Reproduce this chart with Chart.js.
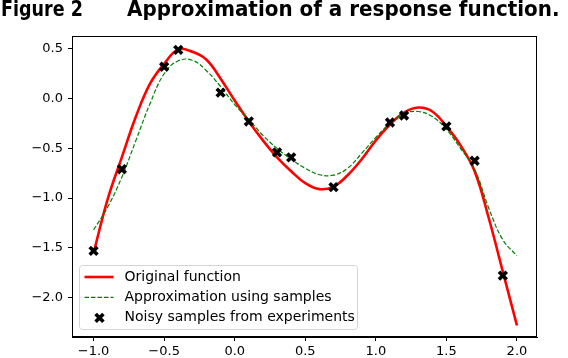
<!DOCTYPE html>
<html lang="en">
<head>
  <meta charset="UTF-8" />
  <title>Approximation of a response function</title>
  <script src="https://cdn.jsdelivr.net/npm/chart.js@4"></script>
  <style>
    body {
      margin: 0;
      background: #fff;
    }

    #wrap {
      position: relative;
      width: 568px;
      height: 358px;
      overflow: hidden;
    }

    .title {
      position: absolute;
      top: -1.5px;
      font: bold 20.5px "DejaVu Sans", sans-serif;
      line-height: 1;
      white-space: nowrap;
      color: #000;
      transform-origin: 0 0;
    }

    canvas {
      position: absolute;
      left: 0;
      top: 0;
    }
  </style>
</head>
<body>
  <div id="wrap">
    <canvas id="chart" width="568" height="358"></canvas>
    <div class="title" style="left: 1px; transform: scaleX(0.855);">Figure 2</div>
    <div class="title" style="left: 127px; transform: scaleX(0.972);">Approximation of a response function.</div>
  </div>

  <script>
    // x grid the curves were read on
    const xs = [-1.0, -0.9, -0.8, -0.7, -0.6, -0.5, -0.4, -0.3, -0.2, -0.1,
                0.0, 0.1, 0.2, 0.3, 0.4, 0.5, 0.6, 0.7, 0.8, 0.9,
                1.0, 1.1, 1.2, 1.3, 1.4, 1.5, 1.6, 1.7, 1.8, 1.9, 2.0];

    const originalY = [-1.55, -1.01, -0.59, -0.18, 0.15, 0.35, 0.495, 0.47, 0.39, 0.20,
                       -0.02, -0.23, -0.42, -0.59, -0.73, -0.85, -0.91, -0.885, -0.77, -0.61,
                       -0.42, -0.26, -0.14, -0.09, -0.13, -0.28, -0.47, -0.73, -1.20, -1.74, -2.28];

    const approxY = [-1.32, -1.09, -0.79, -0.42, -0.05, 0.25, 0.38, 0.385, 0.28, 0.12,
                     -0.06, -0.21, -0.37, -0.50, -0.61, -0.70, -0.765, -0.77, -0.70, -0.55,
                     -0.39, -0.25, -0.15, -0.13, -0.18, -0.31, -0.50, -0.71, -1.10, -1.42, -1.58];

    const sampleX = [-1.0, -0.8, -0.5, -0.4, -0.1, 0.1, 0.3, 0.4, 0.7, 1.1, 1.2, 1.5, 1.7, 1.9];
    const sampleY = [-1.53, -0.71, 0.32, 0.49, 0.06, -0.23, -0.54, -0.59, -0.89, -0.24, -0.17, -0.28, -0.625, -1.78];

    const xTicks = [-1.0, -0.5, 0.0, 0.5, 1.0, 1.5, 2.0];
    const yTicks = [-2.0, -1.5, -1.0, -0.5, 0.0, 0.5];

    const toPoints = (xArr, yArr) => xArr.map((x, i) => ({ x, y: yArr[i] }));
    const fmt = v => (v < 0 ? '\u2212' : '') + Math.abs(v).toFixed(1);

    // matplotlib style box around the axes
    const frame = {
      id: 'frame',
      afterDraw(chart) {
        const { ctx, chartArea: a } = chart;
        ctx.save();
        ctx.strokeStyle = '#000';
        ctx.lineWidth = 1;
        ctx.strokeRect(a.left + 0.5, a.top + 0.5, a.right - a.left - 1, a.bottom - a.top - 1);
        ctx.restore();
      }
    };

    // legend drawn inside the axes, lower left
    const boxLegend = {
      id: 'boxLegend',
      afterDatasetsDraw(chart) {
        const { ctx, chartArea: a } = chart;
        const x0 = a.left + 7.5, y0 = a.bottom - 71.5, w = 278, h = 64;
        ctx.save();
        ctx.beginPath();
        ctx.roundRect(x0, y0, w, h, 3);
        ctx.fillStyle = 'rgba(255,255,255,0.8)';
        ctx.fill();
        ctx.strokeStyle = '#d4d4d4';
        ctx.lineWidth = 1;
        ctx.stroke();

        ctx.font = '14px "DejaVu Sans"';
        ctx.textBaseline = 'middle';
        chart.data.datasets.forEach((ds, i) => {
          const cy = y0 + 11.5 + i * 20.4;
          if (ds.showLine === false) {
            ctx.strokeStyle = ds.pointBorderColor;
            ctx.fillStyle = ds.pointBackgroundColor;
            ctx.lineWidth = ds.pointBorderWidth;
            Chart.helpers.drawPoint(ctx, {
              pointStyle: ds.pointStyle,
              radius: ds.pointRadius,
              borderWidth: ds.pointBorderWidth
            }, x0 + 20, cy);
          } else {
            ctx.strokeStyle = ds.borderColor;
            ctx.lineWidth = ds.borderWidth;
            ctx.setLineDash(ds.borderDash || []);
            ctx.beginPath();
            ctx.moveTo(x0 + 5, cy);
            ctx.lineTo(x0 + 34, cy);
            ctx.stroke();
            ctx.setLineDash([]);
          }
          ctx.fillStyle = '#000';
          ctx.fillText(ds.label, x0 + 45, cy);
        });
        ctx.restore();
      }
    };

    const axisCommon = {
      type: 'linear',
      grid: { drawOnChartArea: false, drawTicks: true, tickLength: 4, color: '#000' },
      border: { display: true, color: '#000' },
      ticks: {
        color: '#000',
        font: { family: '"DejaVu Sans"', size: 13 },
        callback: v => fmt(v)
      }
    };

    new Chart(document.getElementById('chart').getContext('2d'), {
      type: 'line',
      data: {
        datasets: [{
          label: 'Original function',
          data: toPoints(xs, originalY),
          borderColor: '#ff0000',
          borderWidth: 2.6,
          pointRadius: 0,
          tension: 0.4,
          fill: false,
          order: 3
        }, {
          label: 'Approximation using samples',
          data: toPoints(xs, approxY),
          borderColor: '#008000',
          borderWidth: 1.2,
          borderDash: [4.5, 2],
          pointRadius: 0,
          tension: 0.4,
          fill: false,
          order: 2
        }, {
          label: 'Noisy samples from experiments',
          data: toPoints(sampleX, sampleY),
          showLine: false,
          pointStyle: 'crossRot',
          pointRadius: 5.5,
          pointBorderWidth: 3.6,
          pointBorderColor: '#000',
          pointBackgroundColor: '#000',
          order: 1
        }]
      },
      options: {
        responsive: false,
        animation: false,
        layout: { padding: { left: 0, right: 31, top: 36, bottom: 0 } },
        plugins: {
          legend: { display: false },
          tooltip: { enabled: false }
        },
        scales: {
          x: {
            ...axisCommon,
            min: -1.153,
            max: 2.142,
            afterBuildTicks: s => { s.ticks = xTicks.map(v => ({ value: v })); },
            afterFit: s => { s.height = 21; },
            ticks: { ...axisCommon.ticks, padding: 3, maxRotation: 0 }
          },
          y: {
            ...axisCommon,
            min: -2.396,
            max: 0.629,
            afterBuildTicks: s => { s.ticks = yTicks.map(v => ({ value: v })); },
            afterFit: s => { s.width = 72; },
            ticks: { ...axisCommon.ticks, padding: 5 }
          }
        }
      },
      plugins: [frame, boxLegend]
    });
  </script>
</body>
</html>
